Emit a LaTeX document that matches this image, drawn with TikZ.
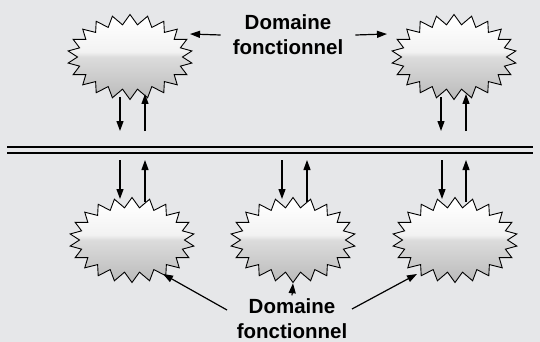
\documentclass[tikz,border=0pt]{standalone}
\usepackage{fontspec}
\setmainfont{Liberation Sans}
\usetikzlibrary{arrows.meta,positioning,calc,shapes.symbols}
\definecolor{fondG}{HTML}{E6E7E9}
\definecolor{nuageH}{HTML}{F2F2F2}
\definecolor{nuageM}{HTML}{DCDCDC}
\definecolor{nuageB}{HTML}{BEBEBE}
\pgfdeclareverticalshading{nuage}{100bp}{color(0bp)=(nuageB); color(28bp)=(nuageB); color(50bp)=(nuageM); color(53bp)=(nuageH); color(72bp)=(white); color(100bp)=(white)}
\tikzset{
  domaine/.style={starburst, starburst points=22, starburst point height=10pt, random starburst=0,
                  draw=black, line width=0.9pt, shading=nuage,
                  minimum width=125pt, minimum height=85pt, inner sep=0pt},
  fl/.style={-{Triangle[length=10pt,width=7pt]}, line width=1.2pt},
  lbl/.style={font=\bfseries\fontsize{20.5}{25}\selectfont, align=center, inner xsep=12pt},
  bus/.style={line width=2pt},
}

\begin{document}
\begin{tikzpicture}[x=1pt, y=-1pt]
\fill[fondG] (0,0) rectangle (540,342);
\useasboundingbox (0,0) rectangle (540,342);
% domaines
\node[domaine] (t1) at (130,57) {};
\node[domaine] (t2) at (454,57) {};
\node[domaine] (b1) at (132,240) {};
\node[domaine] (b2) at (293,240) {};
\node[domaine] (b3) at (455,240) {};
% bus
\coordinate (busA) at (7,146.5);
\coordinate (busB) at (533,146.5);
\draw[bus] (busA) -- (busB);
\draw[bus] ($(busA)+(0,6.5)$) -- ($(busB)+(0,6.5)$);
% liaisons
\draw[fl] ($(t1.center)+(-10,40)$) -- ++(0,34);
\draw[fl] ($(t1.center)+(15,74)$) -- ++(0,-37);
\draw[fl] ($(t2.center)+(-13,40)$) -- ++(0,34);
\draw[fl] ($(t2.center)+(12,74)$) -- ++(0,-37);
\draw[fl] ($(b1.center)+(-12,-80)$) -- ++(0,39);
\draw[fl] ($(b1.center)+(13,-38)$) -- ++(0,-42);
\draw[fl] ($(b2.center)+(-11,-80)$) -- ++(0,39);
\draw[fl] ($(b2.center)+(14,-38)$) -- ++(0,-42);
\draw[fl] ($(b3.center)+(-13,-80)$) -- ++(0,39);
\draw[fl] ($(b3.center)+(11,-38)$) -- ++(0,-42);
% etiquettes
\node[lbl] (ht) at (288,35) {Domaine\\fonctionnel};
\node[lbl] (hb) at (292,319) {Domaine\\fonctionnel};
\coordinate (pt1) at (190,34);
\coordinate (pt2) at (387,34);
\coordinate (qg) at (227,310);
\coordinate (qd) at (352,309);
\coordinate (pb1) at (163,274);
\coordinate (pb3) at (417,274);
\draw[fl] (ht.west) -- (pt1);
\draw[fl] (ht.east) -- (pt2);
\draw[fl] (qg) -- (pb1);
\draw[fl] (qd) -- (pb3);
\draw[fl] (hb.north) -- (b2.south);
\end{tikzpicture}
\end{document}
